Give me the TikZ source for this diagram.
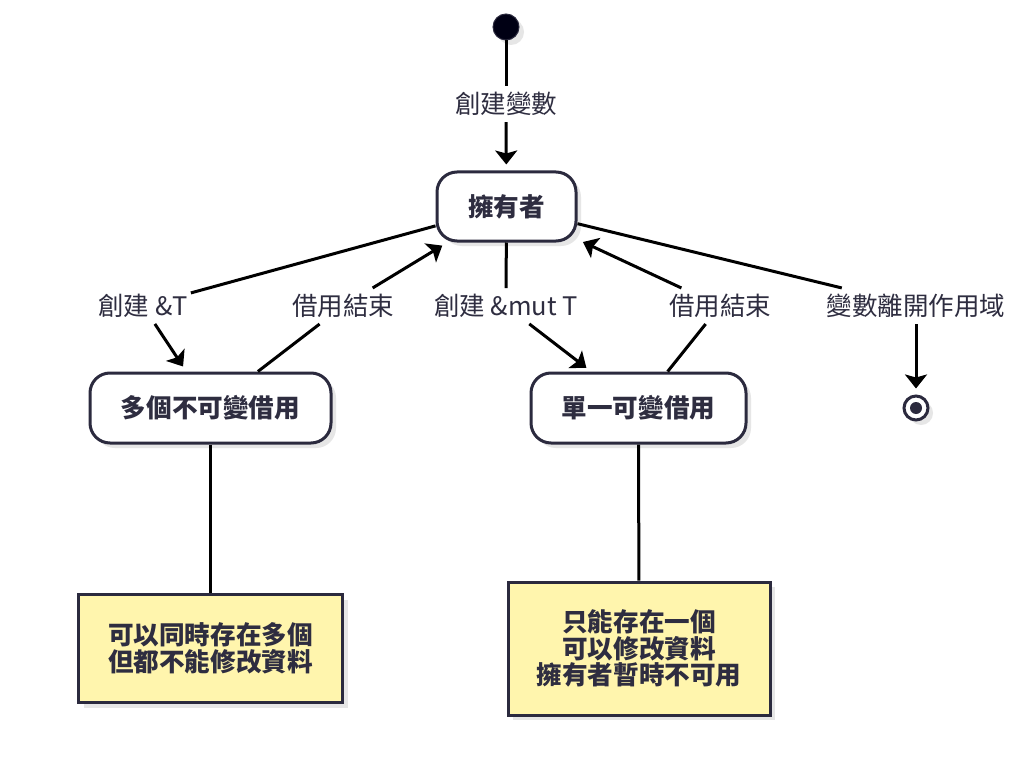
\documentclass[tikz,border=0pt]{standalone}
\usepackage{fontspec}
\setmainfont{Noto Sans CJK TC}
\usetikzlibrary{arrows.meta,shadows}
\definecolor{ink}{HTML}{2B2A3E}
\definecolor{txt}{HTML}{2E2D40}
\definecolor{notefill}{HTML}{FFF5AD}
\definecolor{shade}{HTML}{E6E6E6}
\tikzset{
  shd/.style={drop shadow={shadow xshift=5pt, shadow yshift=-5pt, fill=shade, opacity=1}},
  statebox/.style={draw=ink, line width=3pt, rounded corners=20pt, fill=white, shd,
    text=txt, font=\fontsize{25.6}{27}\selectfont\bfseries, align=center, inner sep=0pt},
  notebox/.style={draw=ink, line width=3pt, fill=notefill, shd,
    text=txt, font=\fontsize{25.6}{26.5}\selectfont\bfseries, align=center, inner sep=0pt},
  lbl/.style={text=txt, font=\fontsize{25.5}{27}\selectfont, inner xsep=3pt, inner ysep=6pt},
  conn/.style={line width=3pt, draw=black},
  arr/.style={conn, -{Stealth[length=14pt, width=22pt, inset=3pt]}, shorten >=6pt},
}
\begin{document}
\begin{tikzpicture}[x=1pt,y=-1pt]
\useasboundingbox[fill=white] (0,0) rectangle (1024,778);

% start and end
\node[circle, draw=ink, line width=1pt, fill=black!92!blue, minimum size=26pt, inner sep=0pt, shd] (start) at (506,27) {};
\node[circle, draw=ink, line width=3pt, fill=white, minimum size=24pt, inner sep=0pt, shd] (end) at (916,408) {};
\fill[ink] (end.center) circle (6pt);

% states
\node[statebox, minimum width=139pt, minimum height=69pt] (owner) at (506.5,206.5) {擁有者};
\node[statebox, minimum width=241pt, minimum height=70pt] (multi) at (210.5,408) {多個不可變借用};
\node[statebox, minimum width=215pt, minimum height=70pt] (single) at (638.5,408) {單一可變借用};

% notes
\node[notebox, minimum width=264pt, minimum height=108pt] (note1) at (210.5,648.5) {可以同時存在多個\\但都不能修改資料};
\node[notebox, minimum width=262pt, minimum height=133pt] (note2) at (639,648.5) {只能存在一個\\可以修改資料\\擁有者暫時不可用};

% labels
\node[lbl] (l0) at (506,104) {創建變數};
\node[lbl] (l1) at (143,306) {創建 \&T};
\node[lbl] (l2) at (343,306) {借用結束};
\node[lbl] (l3) at (506,306) {創建 \&mut T};
\node[lbl] (l4) at (720,306) {借用結束};
\node[lbl] (l5) at (916,306) {變數離開作用域};

% connectors
\draw[conn] (start) -- (l0);
\draw[arr] (l0) -- (owner);

\draw[conn] (owner) -- (l1);
\draw[arr] (l1) -- (multi);

\draw[conn] (multi) -- (l2);
\draw[arr] (l2) -- (owner);

\draw[conn] (owner) -- (l3);
\draw[arr] (l3) -- (single);

\draw[conn] (single) -- (l4);
\draw[arr] (l4) -- (owner);

\draw[conn] (owner) -- (l5);
\draw[arr] (l5) -- (end);

\draw[conn] (multi) -- (note1);
\draw[conn] (single) -- (note2);
\end{tikzpicture}
\end{document}
